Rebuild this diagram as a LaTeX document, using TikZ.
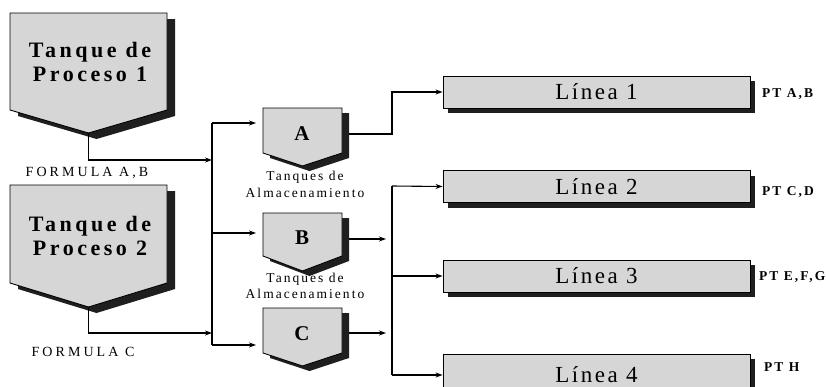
\documentclass[tikz,border=0pt]{standalone}
\usepackage{fontspec}
\setmainfont{Liberation Serif}
\newfontfamily\tkf[LetterSpace=16]{Liberation Serif}
\newfontfamily\lnf[LetterSpace=11]{Liberation Serif}
\newfontfamily\capf[LetterSpace=15]{Liberation Serif}
\newfontfamily\frmf[LetterSpace=22]{Liberation Serif}
\newfontfamily\ptf[LetterSpace=15]{Liberation Serif}
\usetikzlibrary{arrows.meta,shadows}
\definecolor{tankgray}{RGB}{214,214,214}
\tikzset{
  tankbody/.style={draw=black,line width=0.9pt,fill=tankgray,line join=miter},
  tankshadow/.style={fill=black!88},
  conn/.style={line width=1.1pt},
  arr/.style={conn,-{Stealth[length=7pt,width=5pt]}},
  tanktxt/.style={font=\tkf\bfseries\fontsize{22}{24}\selectfont,align=center,inner sep=0pt},
  lettertxt/.style={font=\bfseries\fontsize{21}{22}\selectfont,inner sep=0pt},
  captxt/.style={font=\capf\fontsize{13.5}{16.5}\selectfont,align=center,inner sep=0pt},
  frmtxt/.style={font=\frmf\fontsize{14}{16}\selectfont,inner sep=0pt},
  pttxt/.style={font=\ptf\bfseries\fontsize{13.5}{15}\selectfont,inner sep=0pt,anchor=west},
  lbox/.style={draw=black,line width=0.9pt,fill=tankgray,minimum width=307pt,minimum height=32pt,
    inner sep=0pt,font=\lnf\fontsize{23}{26}\selectfont,
    drop shadow={shadow xshift=5pt,shadow yshift=-5pt,fill=black!88,opacity=1}},
}
% #1 L, #2 T, #3 R, #4 side bottom, #5 point y, #6 dx, #7 dy
\newcommand\tankdraw[7]{%
  \fill[tankshadow] ({#1+#6},{#2+#7}) -- ({#3+#6},{#2+#7}) -- ({#3+#6},{#4+#7})
     -- ({(#1+#3)/2+#6},{#5+#7}) -- ({#1+#6},{#4+#7}) -- cycle;
  \draw[tankbody] (#1,#2) -- (#3,#2) -- (#3,#4) -- ({(#1+#3)/2},#5) -- (#1,#4) -- cycle;
}
\begin{document}
\begin{tikzpicture}[x=1pt,y=-1pt]
\useasboundingbox (0,0) rectangle (826,386);
\clip (0,0) rectangle (826,386);
% process tanks
\tankdraw{10}{13}{167}{110}{133}{8}{6}
\tankdraw{10}{185}{167}{283}{307}{8}{6}
\node[tanktxt] (t1) at (90,62) {Tanque de\\Proceso 1};
\node[tanktxt] (t2) at (90,236) {Tanque de\\Proceso 2};
\coordinate (t1p) at (88.5,133);
\coordinate (t2p) at (88.5,307);
\node[frmtxt] (f1) at (87,173) {FORMULA A,B};
\node[frmtxt] (f2) at (83,352) {FORMULA C};
% storage tanks
\tankdraw{263}{108}{342}{153}{166}{7}{5}
\tankdraw{263}{213}{342}{256}{271}{7}{5}
\tankdraw{263}{308}{342}{353}{366}{7}{5}
\node[lettertxt] (A) at (302,134) {A};
\node[lettertxt] (B) at (302,238) {B};
\node[lettertxt] (C) at (302,334) {C};
\node[captxt] (ca) at (305,184.5) {Tanques de\\Almacenamiento};
\node[captxt] (cb) at (305,286) {Tanques de\\Almacenamiento};
% bus 1
\coordinate (b1top) at (212,123);
\coordinate (b1mid) at (212,233);
\coordinate (b1bot) at (212,345);
\coordinate (b1in1) at (212,160);
\coordinate (b1in2) at (212,333);
\coordinate (ainL) at (256,123);
\coordinate (binL) at (256,233);
\coordinate (cinL) at (256,345);
\draw[arr] (t1p) |- (b1in1);
\draw[arr] (t2p) |- (b1in2);
\draw[conn] (b1top) -- (b1bot);
\draw[arr] (b1top) -- (ainL);
\draw[arr] (b1mid) -- (binL);
\draw[arr] (b1bot) -- (cinL);
% outputs
\coordinate (aout) at (349,134);
\coordinate (bout) at (349,239);
\coordinate (cout) at (349,333);
\coordinate (bend) at (386,239);
\coordinate (cend) at (386,333);
\coordinate (b2top) at (392,186);
\coordinate (b2mid) at (392,276);
\coordinate (b2bot) at (392,375);
% lines
\node[lbox] (l1) at (596.5,92) {Línea 1};
\node[lbox] (l2) at (596.5,186.5) {Línea 2};
\node[lbox] (l3) at (596.5,276) {Línea 3};
\node[lbox,minimum height=42pt] (l4) at (596.5,375) {\raisebox{2pt}{Línea 4}};
\draw[arr] (aout) -- (392,134) |- (l1.west);
\draw[arr] (bout) -- (bend);
\draw[arr] (cout) -- (cend);
\draw[conn] (b2top) -- (b2bot);
\draw[arr] (b2top) -- (l2.west);
\draw[arr] (b2mid) -- (l3.west);
\draw[arr] (b2bot) -- (l4.west);
\node[pttxt] (p1) at (762,94) {PT A,B};
\node[pttxt] (p2) at (762,192) {PT C,D};
\node[pttxt] (p3) at (759,277) {PT E,F,G};
\node[pttxt] (p4) at (764,367) {PT H};
\end{tikzpicture}
\end{document}
